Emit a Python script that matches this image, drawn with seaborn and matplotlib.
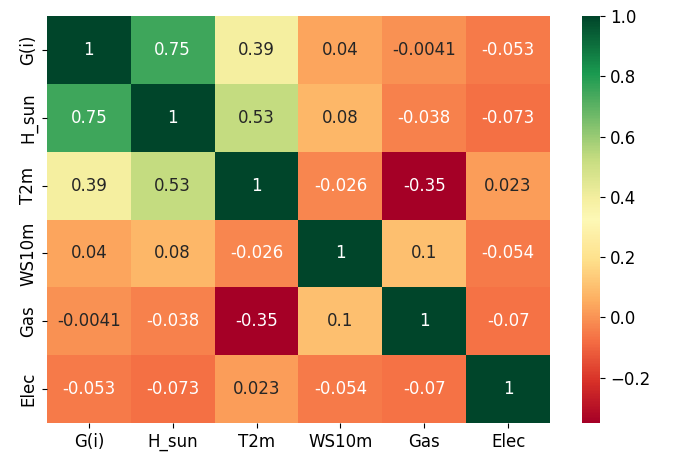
import numpy as np
import pandas as pd
import seaborn as sns
import matplotlib
matplotlib.use("Agg")
import matplotlib.pyplot as plt
from matplotlib.colors import LinearSegmentedColormap

labels = ["G(i)", "H_sun", "T2m", "WS10m", "Gas", "Elec"]
row_gi = [1, 0.75, 0.39, 0.04, -0.0041, -0.053]
row_hsun = [0.75, 1, 0.53, 0.08, -0.038, -0.073]
row_t2m = [0.39, 0.53, 1, -0.026, -0.35, 0.023]
row_ws10m = [0.04, 0.08, -0.026, 1, 0.1, -0.054]
row_gas = [-0.0041, -0.038, -0.35, 0.1, 1, -0.07]
row_elec = [-0.053, -0.073, 0.023, -0.054, -0.07, 1]

corr = pd.DataFrame([row_gi, row_hsun, row_t2m, row_ws10m, row_gas, row_elec],
                    index=labels, columns=labels)

# colormap resembling the reference's red-yellow-green rendering
cmap = LinearSegmentedColormap.from_list("rdylgn_ref", [
    (0.0, "#a50026"), (0.1, "#d73027"), (0.2, "#f46d43"), (0.3, "#fdae61"),
    (0.4, "#fee08b"), (0.5, "#fdf8b6"), (0.55, "#f5efa0"), (0.65, "#c5dc80"),
    (0.815, "#3fa65b"), (0.86, "#1a9a50"), (1.0, "#00452a")])

fig = plt.figure(figsize=(6.74, 4.55), dpi=100)
ax = fig.add_axes([0.0697, 0.0703, 0.7463, 0.8945])
cax = fig.add_axes([0.8635, 0.0703, 0.0274, 0.8945])
sns.heatmap(corr, annot=True, cmap=cmap, ax=ax, cbar_ax=cax,
            annot_kws={"fontsize": 12})
ax.tick_params(labelsize=12)
cax.tick_params(labelsize=12)
fig.savefig("out.png", dpi=100)
